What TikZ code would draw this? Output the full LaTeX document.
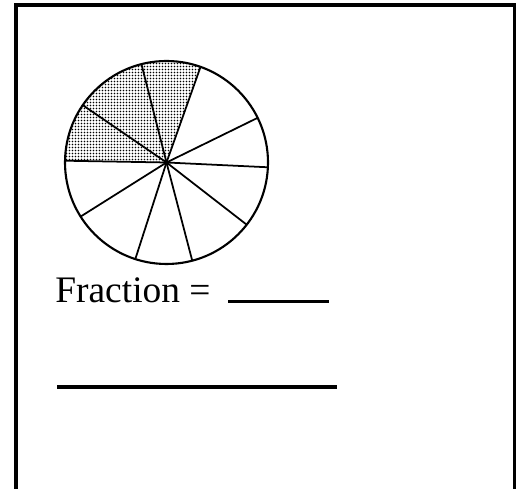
\documentclass[tikz,border=0pt]{standalone}
\usepackage{fontspec}
\setmainfont{Liberation Serif}
\usetikzlibrary{patterns.meta}
\tikzdeclarepattern{name=stipple, type=uncolored,
  bounding box={(0,0) and (1.7pt,1.7pt)}, tile size={(1.7pt,1.7pt)},
  code={\fill (0.85pt,0.85pt) circle (0.55pt);}}

\begin{document}
\begin{tikzpicture}[
  x=0.02cm, y=0.02cm,
  frame/.style={line width=1.9pt},
  rim/.style={line width=1.2pt},
  spoke/.style={line width=1pt},
  shade/.style={pattern=stipple, pattern color=black},
  blank/.style={line width=1.9pt},
  label/.style={font=\fontsize{21.3}{25}\selectfont, inner sep=0pt, anchor=base west}]
\useasboundingbox (0,0) rectangle (527,489);
% open frame (no bottom edge)
\draw[frame] (16,0) -- (16,484) -- (514.5,484) -- (514.5,0);
% pie with ten slices, three shaded
\coordinate (c) at (166.5,326.5);
\def\r{101.5}
\fill[shade] (c) -- ++(179:\r) arc (179:70.4:\r) -- cycle;
\foreach \a in {179,145.6,104.3,70.4,26.1,-2.7,-37.8,-75.3,-107.9,-147.8}
  \draw[spoke] (c) -- ++(\a:\r);
\draw[rim] (c) circle (\r);
% answer lines
\node[label] (frac) at (55,186.3) {Fraction =};
\coordinate (ans1) at (228,187.3);
\coordinate (ans2) at (329,187.3);
\draw[blank] (ans1) -- (ans2);
\coordinate (ln1) at (57,102);
\coordinate (ln2) at (337,102);
\draw[blank] (ln1) -- (ln2);
\end{tikzpicture}
\end{document}
